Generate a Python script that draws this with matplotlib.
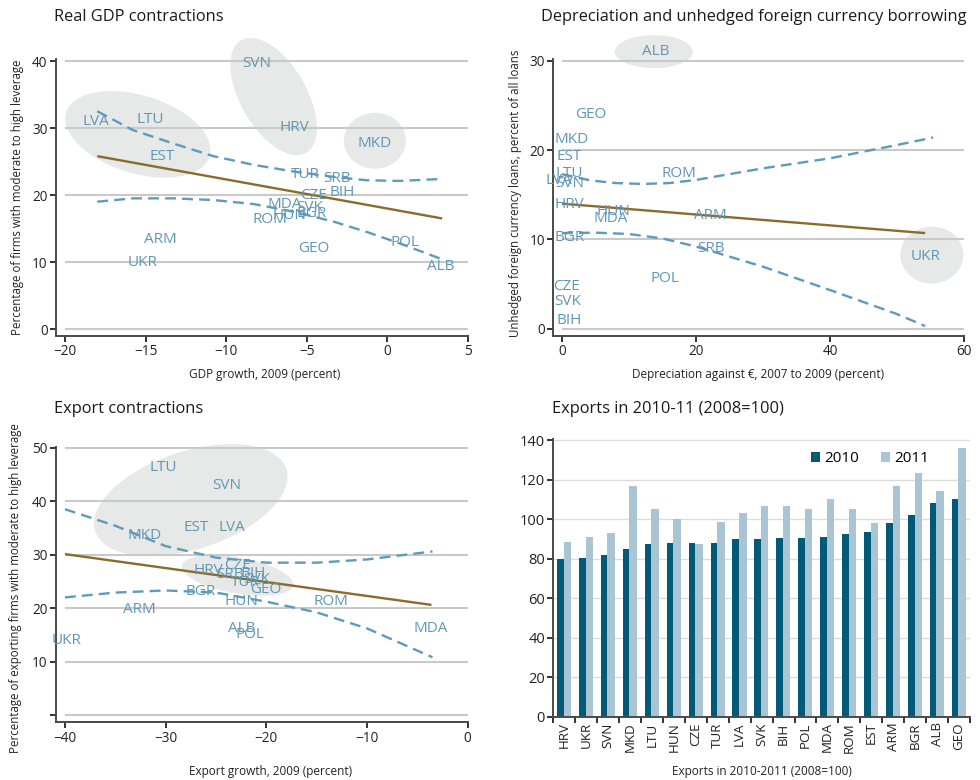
import matplotlib
matplotlib.use("Agg")
import matplotlib.pyplot as plt
from matplotlib.patches import Ellipse
from matplotlib.transforms import ScaledTranslation

plt.rcParams['font.family'] = ['Open Sans', 'DejaVu Sans']

# ---------------- data ----------------
# Panel 1: Real GDP contractions
gdp_labels = ['SVN', 'LVA', 'LTU', 'HRV', 'MKD', 'EST', 'TUR', 'SRB', 'BIH', 'CZE',
              'MDA', 'SVK', 'HUN', 'BGR', 'ROM', 'ARM', 'UKR', 'GEO', 'POL', 'ALB']
gdp_growth = [-8.1, -18.1, -14.7, -5.8, -0.8, -14.0, -5.1, -3.1, -2.8, -4.6,
              -6.4, -4.8, -6.1, -4.7, -7.3, -14.1, -15.2, -4.6, 1.1, 3.3]
gdp_leverage = [39.7, 30.9, 31.3, 30.1, 27.7, 25.8, 23.1, 22.5, 20.3, 20.0,
                18.6, 18.1, 17.0, 17.3, 16.3, 13.4, 10.0, 12.0, 12.9, 9.3]
gdp_fit_x = [-18.0, 3.4]
gdp_fit_y = [25.8, 16.5]
gdp_band_x = [-18.0, -15.8, -13.3, -10.8, -8.3, -5.8, -3.3, -1.3, 0.8, 3.4]
gdp_upper = [32.5, 29.7, 27.7, 25.8, 24.5, 23.5, 22.7, 22.2, 22.1, 22.4]
gdp_lower = [19.0, 19.5, 19.5, 19.25, 18.65, 17.5, 16.0, 14.5, 12.75, 10.4]

# Panel 2: Depreciation and unhedged FX borrowing
dep_labels = ['ALB', 'GEO', 'MKD', 'EST', 'LTU', 'LVA', 'SVN', 'ROM', 'HRV', 'HUN',
              'MDA', 'ARM', 'BGR', 'SRB', 'UKR', 'POL', 'CZE', 'SVK', 'BIH']
dep_depr = [14.0, 4.3, 1.5, 1.1, 1.1, -0.5, 1.1, 17.5, 1.1, 7.7,
            7.3, 22.1, 1.2, 22.3, 54.2, 15.4, 0.6, 0.9, 1.1]
dep_unhedged = [31.0, 24.0, 21.2, 19.3, 17.4, 16.6, 16.2, 17.4, 13.9, 13.1,
                12.3, 12.7, 10.2, 9.0, 8.1, 5.6, 4.7, 3.1, 0.9]
dep_fit_x = [0.0, 54.2]
dep_fit_y = [14.0, 10.7]
dep_up_x = [0.0, 4.2, 8.0, 12.1, 16.0, 20.0, 30.0, 40.0, 50.0, 55.4]
dep_upper = [17.3, 16.6, 16.3, 16.2, 16.3, 16.65, 17.95, 19.07, 20.56, 21.4]
dep_lo_x = [0.0, 5.0, 10.0, 15.0, 20.0, 30.0, 40.0, 50.0, 54.2]
dep_lower = [10.7, 10.75, 10.6, 10.1, 9.2, 6.94, 4.33, 1.64, 0.3]

# Panel 3: Export contractions
exp_labels = ['LTU', 'SVN', 'EST', 'LVA', 'MKD', 'HRV', 'CZE', 'SRB', 'BIH', 'TUR',
              'SVK', 'GEO', 'BGR', 'HUN', 'ROM', 'ARM', 'MDA', 'ALB', 'POL', 'UKR']
exp_growth = [-30.2, -23.9, -27.0, -23.4, -32.1, -25.8, -22.9, -23.6, -21.3, -22.1,
              -21.0, -20.1, -26.5, -22.5, -13.6, -32.6, -3.7, -22.4, -21.6, -39.8]
exp_leverage = [46.3, 42.9, 35.1, 35.1, 33.5, 27.1, 27.9, 26.3, 26.5, 24.8,
                25.3, 23.5, 23.1, 21.2, 21.2, 19.8, 16.1, 16.2, 15.1, 13.9]
exp_fit_x = [-40.0, -3.6]
exp_fit_y = [30.1, 20.6]
exp_band_x = [-40.0, -35.0, -30.0, -25.0, -20.0, -15.0, -10.0, -3.5]
exp_upper = [38.5, 35.4, 31.6, 29.45, 28.5, 28.5, 29.1, 30.6]
exp_lower = [22.0, 22.9, 23.3, 22.9, 21.2, 19.2, 16.2, 10.8]

# Panel 4: Exports in 2010-11
bar_countries = ['HRV', 'UKR', 'SVN', 'MKD', 'LTU', 'HUN', 'CZE', 'TUR', 'LVA', 'SVK',
                 'BIH', 'POL', 'MDA', 'ROM', 'EST', 'ARM', 'BGR', 'ALB', 'GEO']
exports_2010 = [79.6, 80.3, 81.6, 84.7, 87.2, 87.9, 87.9, 87.9, 89.9, 89.9,
                90.6, 90.6, 91.2, 92.4, 93.6, 98.2, 102.0, 108.4, 110.3]
exports_2011 = [88.4, 91.1, 92.9, 116.7, 105.1, 100.0, 87.2, 98.7, 103.2, 106.4,
                106.4, 105.1, 110.3, 105.1, 98.2, 116.7, 123.1, 114.2, 135.8]

# ---------------- styles ----------------
LABEL_C = '#5f97b6'
DASH_C = '#5f9aba'
FIT_C = '#8a6b2a'
GRID_C = '#c9c9c9'
BLOB_C = '#e7e8e8'
SPINE_C = '#4a4a4a'
C2010 = '#005a78'
C2011 = '#a9c4d2'

W, H = 980, 780
fig = plt.figure(figsize=(W / 100, H / 100), dpi=100)


def box(l, t, r, b):
    return [l / W, 1 - b / H, (r - l) / W, (b - t) / H]


def style(ax):
    for s in ['top', 'right']:
        ax.spines[s].set_visible(False)
    for s in ['left', 'bottom']:
        ax.spines[s].set_color(SPINE_C)
        ax.spines[s].set_linewidth(1.4)
    ax.tick_params(direction='out', length=4, width=1.4, color='#333333',
                   labelsize=9.8, labelcolor='#222222', pad=2)


def blob(ax, cx, cy, w, h, ang):
    e = Ellipse((0, 0), w / 100, h / 100, angle=ang,
                transform=fig.dpi_scale_trans + ScaledTranslation(cx, cy, ax.transData),
                facecolor=BLOB_C, edgecolor='none', zorder=0.5, clip_on=False)
    ax.add_patch(e)


def scatter_panel(ax, xs, ys, labels, fx, fy, ux, uy, lx, ly):
    ax.plot(fx, fy, color=FIT_C, lw=1.7, zorder=3, solid_capstyle='butt')
    ax.plot(ux, uy, color=DASH_C, lw=1.7, ls=(0, (4.6, 2.6)), zorder=3)
    ax.plot(lx, ly, color=DASH_C, lw=1.7, ls=(0, (4.6, 2.6)), zorder=3)
    for t, x, y in zip(labels, xs, ys):
        ax.text(x, y, t, color=LABEL_C, fontsize=11, ha='center', va='center',
                zorder=4, clip_on=False)


# ---------- Panel 1 ----------
ax1 = fig.add_axes(box(56, 59, 468, 335.7))
style(ax1)
ax1.set_xlim(-20.56, 5)
ax1.set_ylim(-1, 40.3)
ax1.set_xticks([-20, -15, -10, -5, 0, 5])
ax1.set_yticks([0, 10, 20, 30, 40])
ax1.hlines([0, 10, 20, 30, 40], -20, 5, color=GRID_C, lw=1.5, zorder=1)
blob(ax1, -15.48, 29.06, 150, 78, -17)
blob(ax1, -7.06, 34.7, 130, 66, -60)
blob(ax1, -0.78, 28.1, 62, 56, 0)
scatter_panel(ax1, gdp_growth, gdp_leverage, gdp_labels, gdp_fit_x, gdp_fit_y,
              gdp_band_x, gdp_upper, gdp_band_x, gdp_lower)

# ---------- Panel 2 ----------
ax2 = fig.add_axes(box(553.3, 59.3, 964, 335.7))
style(ax2)
ax2.set_xlim(-1.3, 60)
ax2.set_ylim(-0.78, 30.15)
ax2.set_xticks([0, 20, 40, 60])
ax2.set_yticks([0, 10, 20, 30])
ax2.hlines([0, 10, 20, 30], 0, 60, color=GRID_C, lw=1.5, zorder=1)
blob(ax2, 13.7, 31.0, 78, 33, 0)
blob(ax2, 55.2, 8.25, 63, 57, 0)
scatter_panel(ax2, dep_depr, dep_unhedged, dep_labels, dep_fit_x, dep_fit_y,
              dep_up_x, dep_upper, dep_lo_x, dep_lower)

# ---------- Panel 3 ----------
ax3 = fig.add_axes(box(56, 446.7, 467.7, 722.3))
style(ax3)
ax3.set_xlim(-40.89, 0)
ax3.set_ylim(-1.37, 50.2)
ax3.set_xticks([-40, -30, -20, -10, 0])
ax3.set_yticks([0, 10, 20, 30, 40, 50])
ax3.set_yticklabels(['', '10', '20', '30', '40', '50'])
ax3.hlines([0, 10, 20, 30, 40, 50], -40, 0, color=GRID_C, lw=1.5, zorder=1)
blob(ax3, -27.5, 40.2, 201, 98, 18)
blob(ax3, -22.87, 26.1, 113, 36, -10)
scatter_panel(ax3, exp_growth, exp_leverage, exp_labels, exp_fit_x, exp_fit_y,
              exp_band_x, exp_upper, exp_band_x, exp_lower)

# ---------- Panel 4 ----------
ax4 = fig.add_axes(box(553.3, 439.3, 970, 716.7))
style(ax4)
ax4.set_xlim(-0.5, len(bar_countries) - 0.5)
ax4.set_ylim(0, 140.4)
ax4.set_yticks(range(0, 141, 20))
ax4.hlines(range(20, 141, 20), -0.5, len(bar_countries) - 0.5, color='#dcdcdc',
           lw=1.0, zorder=1)
pos = list(range(len(bar_countries)))
b1 = ax4.bar([p - 0.18 for p in pos], exports_2010, width=0.3, color=C2010,
             zorder=2, label='2010')
b2 = ax4.bar([p + 0.14 for p in pos], exports_2011, width=0.34, color=C2011,
             zorder=2, label='2011')
ax4.set_xticks(pos)
ax4.set_xticklabels(bar_countries, rotation=90, fontsize=9.6)
ax4.tick_params(axis='x', length=0, pad=4)
ax4.set_xticks([p - 0.5 for p in pos] + [len(pos) - 0.5], minor=True)
ax4.tick_params(axis='x', which='minor', direction='out', length=4, width=1.4,
                color='#333333')
ax4.tick_params(axis='y', labelsize=10.5)
leg = ax4.legend(handles=[b1, b2], loc='center', bbox_to_anchor=(0.76, 0.93),
                 ncol=2, frameon=False, fontsize=11, handlelength=0.6,
                 handleheight=0.6, handletextpad=0.3, columnspacing=1.4)

# ---------- texts ----------
def ftext(x, y, s, **kw):
    fig.text(x / W, 1 - y / H, s, **kw)


ftext(54, 21, 'Real GDP contractions', fontsize=11.8, color='#1a1a1a', va='baseline')
ftext(541, 21, 'Depreciation and unhedged foreign currency borrowing', fontsize=11.8,
      color='#1a1a1a', va='baseline')
ftext(54, 413, 'Export contractions', fontsize=11.8, color='#1a1a1a', va='baseline')
ftext(552, 413, 'Exports in 2010-11 (2008=100)', fontsize=11.8, color='#1a1a1a',
      va='baseline')

ftext(265, 374, 'GDP growth, 2009 (percent)', fontsize=8.5, color='#222222',
      ha='center', va='center')
ftext(758, 374, 'Depreciation against €, 2007 to 2009 (percent)', fontsize=8.5,
      color='#222222', ha='center', va='center')
ftext(271, 772, 'Export growth, 2009 (percent)', fontsize=8.5, color='#222222',
      ha='center', va='center')
ftext(762, 772, 'Exports in 2010-2011 (2008=100)', fontsize=8.5, color='#222222',
      ha='center', va='center')

ftext(18, 197, 'Percentage of firms with moderate to high leverage', fontsize=8.3,
      color='#222222', ha='center', va='center', rotation=90)
ftext(515, 193, 'Unhedged foreign currency loans, percent of all loans', fontsize=8.3,
      color='#222222', ha='center', va='center', rotation=90)
ftext(16, 588, 'Percentage of exporting firms with moderate to high leverage',
      fontsize=8.3, color='#222222', ha='center', va='center', rotation=90)

fig.savefig('out.png', dpi=100)
